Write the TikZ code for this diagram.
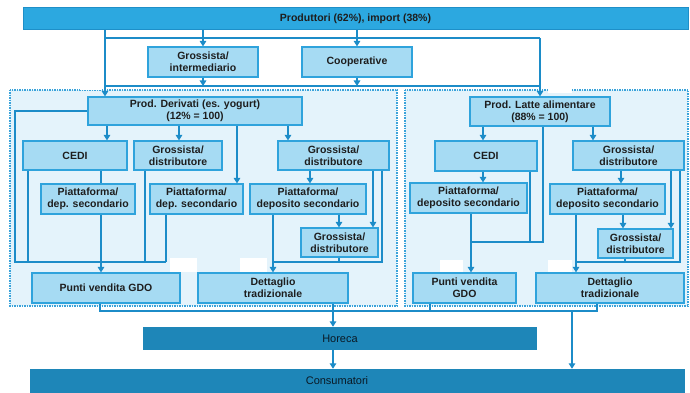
\documentclass[tikz,border=0pt]{standalone}
\usepackage{fontspec}
\setmainfont{Liberation Sans}
\usetikzlibrary{arrows.meta}
\definecolor{barc}{HTML}{2CA8E0}
\definecolor{barb}{HTML}{1E8FC8}
\definecolor{darkbar}{HTML}{1E86B8}
\definecolor{boxc}{HTML}{A6DBF3}
\definecolor{boxb}{HTML}{2FA3DC}
\definecolor{regc}{HTML}{E4F3FB}
\definecolor{regb}{HTML}{3AA3DA}
\definecolor{connc}{HTML}{1C8CC8}
\definecolor{txtc}{HTML}{1E1E1E}
\definecolor{lowtc}{HTML}{0A1A26}
\tikzset{
  box/.style={draw=boxb, fill=boxc, line width=1.2pt, inner sep=0pt, align=center,
    font=\fontsize{10.5}{12}\selectfont\bfseries, text=txtc},
  topbar/.style={draw=barb, fill=barc, line width=1pt, inner sep=0pt,
    font=\fontsize{10.5}{12}\selectfont\bfseries, text=txtc},
  lowbar/.style={fill=darkbar, inner sep=0pt},
  lowtxt/.style={font=\fontsize{11}{12}\selectfont, inner sep=0pt},
  region/.style={fill=regc, draw=regb, line width=1.3pt, dash pattern=on 1.5pt off 1pt},
  patch/.style={fill=white, draw=none},
  conn/.style={draw=connc, line width=2.2pt},
  arr/.style={conn, -{Triangle[width=6.5pt,length=5.5pt]}}
}
\begin{document}
\begin{tikzpicture}[x=1pt,y=-1pt]
\useasboundingbox (0,0) rectangle (690,393);
\fill[white] (0,0) rectangle (690,393);
% regions
\draw[region] (10,90) rectangle (397,306);
\draw[region] (405,90) rectangle (688,306);
% white patches
\fill[patch] (80,77) rectangle (102,90);
\fill[patch] (548,80) rectangle (572,93);
\fill[patch] (170,258) rectangle (197,272);
\fill[patch] (240,258) rectangle (267,272);
\fill[patch] (440,260) rectangle (463,272);
\fill[patch] (548,260) rectangle (572,272);
\fill[patch] (340,315) rectangle (363,325);
\fill[patch] (342,355) rectangle (367,368);
\fill[patch] (578,353) rectangle (602,365);
% nodes
\node[topbar, minimum width=665pt, minimum height=22pt] (top) at (355.5,19) {Produttori (62\%), import (38\%)};
\node[box, minimum width=110pt, minimum height=30pt] (gi) at (203,62) {Grossista/\\intermediario};
\node[box, minimum width=110pt, minimum height=30pt] (coop) at (357,62) {Cooperative};
\node[box, minimum width=214pt, minimum height=28pt] (pd) at (195,111) {Prod. Derivati (es. yogurt)\\(12\% = 100)};
\node[box, minimum width=140pt, minimum height=29pt] (pl) at (540,111.5) {Prod. Latte alimentare\\(88\% = 100)};
\node[box, minimum width=104pt, minimum height=29pt] (cediL) at (75,155.5) {CEDI};
\node[box, minimum width=88pt, minimum height=29pt] (gdL2) at (178,155.5) {Grossista/\\distributore};
\node[box, minimum width=111pt, minimum height=29pt] (gdL3) at (333.5,155.5) {Grossista/\\distributore};
\node[box, minimum width=94pt, minimum height=30pt] (pfL1) at (88,199) {Piattaforma/\\dep. secondario};
\node[box, minimum width=93pt, minimum height=30pt] (pfL2) at (196.5,199) {Piattaforma/\\dep. secondario};
\node[box, minimum width=116pt, minimum height=30pt] (pfL3) at (308,199) {Piattaforma/\\deposito secondario};
\node[box, minimum width=77pt, minimum height=29pt] (gdL3b) at (339.5,242.5) {Grossista/\\distributore};
\node[box, minimum width=148pt, minimum height=30pt] (pvL) at (106,288) {Punti vendita GDO};
\node[box, minimum width=150pt, minimum height=30pt] (dtL) at (273,288) {Dettaglio\\tradizionale};
\node[box, minimum width=102pt, minimum height=30pt] (cediR) at (486,156) {CEDI};
\node[box, minimum width=111pt, minimum height=29pt] (gdR) at (628.5,155.5) {Grossista/\\distributore};
\node[box, minimum width=117pt, minimum height=30pt] (pfR1) at (468.5,198) {Piattaforma/\\deposito secondario};
\node[box, minimum width=115pt, minimum height=30pt] (pfR2) at (607.5,199) {Piattaforma/\\deposito secondario};
\node[box, minimum width=75pt, minimum height=29pt] (gdR3) at (635.5,243.5) {Grossista/\\distributore};
\node[box, minimum width=103pt, minimum height=30pt] (pvR) at (464.5,288) {Punti vendita\\GDO};
\node[box, minimum width=148pt, minimum height=30pt] (dtR) at (610,288) {Dettaglio\\tradizionale};
\node[lowbar, minimum width=394pt, minimum height=23pt] (horeca) at (340,338.5) {};
\node[lowtxt] (horecat) at (340,338.5) {\color{lowtc}Horeca};
\node[lowbar, minimum width=655pt, minimum height=25pt] (cons) at (357.5,381.5) {};
\node[lowtxt] (const) at (337,381) {\color{lowtc}Consumatori};
% junction coordinates
\coordinate (jA) at (105,38);
\coordinate (jB) at (540,38);
\coordinate (jC) at (105,86);
\coordinate (jD) at (540,86);
% top connectors
\draw[arr] (105,0 |- top.south) -- (105,0 |- pd.north);
\draw[conn] (jA) -- (jB);
\draw[arr] (jB) -- (540,0 |- pl.north);
\draw[arr] (203,0 |- top.south) -- (gi.north);
\draw[arr] (357,0 |- top.south) -- (coop.north);
\draw[conn] (jC) -- (jD);
\draw[arr] (gi.south) -- (203,0 |- jC);
\draw[arr] (coop.south) -- (357,0 |- jC);
% left region
\draw[arr] (107,0 |- pd.south) -- (107,0 |- cediL.north);
\draw[arr] (179,0 |- pd.south) -- (179,0 |- gdL2.north);
\draw[arr] (237,0 |- pd.south) -- (237,0 |- pfL2.north);
\draw[arr] (288,0 |- pd.south) -- (288,0 |- gdL3.north);
\draw[conn] (pd.west) -- (15,0 |- pd.west) -- (15,262) -- (166,262);
\draw[conn] (28,0 |- cediL.south) -- (28,262);
\draw[conn] (101,0 |- cediL.south) -- (101,0 |- pfL1.north);
\draw[arr] (101,0 |- pfL1.south) -- (101,0 |- pvL.north);
\draw[conn] (145,0 |- gdL2.south) -- (145,262);
\draw[conn] (166,0 |- pfL2.south) -- (166,262);
\draw[arr] (310,0 |- gdL3.south) -- (310,0 |- pfL3.north);
\draw[arr] (339,0 |- pfL3.south) -- (339,0 |- gdL3b.north);
\draw[arr] (373,0 |- gdL3.south) -- (373,0 |- gdL3b.north);
\draw[conn] (382,0 |- gdL3.south) -- (382,262) -- (273,262);
\draw[conn] (339,0 |- gdL3b.south) -- (339,262);
\draw[arr] (273,0 |- pfL3.south) -- (273,0 |- dtL.north);
% right region
\draw[arr] (483,0 |- pl.south) -- (483,0 |- cediR.north);
\draw[arr] (593,0 |- pl.south) -- (593,0 |- gdR.north);
\draw[conn] (543,0 |- pl.south) -- (543,242) -- (471,242);
\draw[arr] (483,0 |- cediR.south) -- (483,0 |- pfR1.north);
\draw[conn] (530,0 |- cediR.south) -- (530,242);
\draw[arr] (471,0 |- pfR1.south) -- (471,0 |- pvR.north);
\draw[arr] (621,0 |- gdR.south) -- (621,0 |- pfR2.north);
\draw[arr] (623,0 |- pfR2.south) -- (623,0 |- gdR3.north);
\draw[arr] (671,0 |- gdR.south) -- (671,0 |- gdR3.north);
\draw[conn] (680,0 |- gdR.south) -- (680,262) -- (576,262);
\draw[conn] (625,0 |- gdR3.south) -- (625,262);
\draw[arr] (576,0 |- pfR2.south) -- (576,0 |- dtR.north);
% bottom
\draw[conn] (100,0 |- pvL.south) -- (100,311) -- (598,311);
\draw[arr] (333,0 |- dtL.south) -- (333,0 |- horeca.north);
\draw[arr] (333,0 |- horeca.south) -- (333,0 |- cons.north);
\draw[conn] (430,0 |- pvR.south) -- (430,311);
\draw[conn] (597,0 |- dtR.south) -- (597,311);
\draw[arr] (572,311) -- (572,0 |- cons.north);
\end{tikzpicture}
\end{document}
